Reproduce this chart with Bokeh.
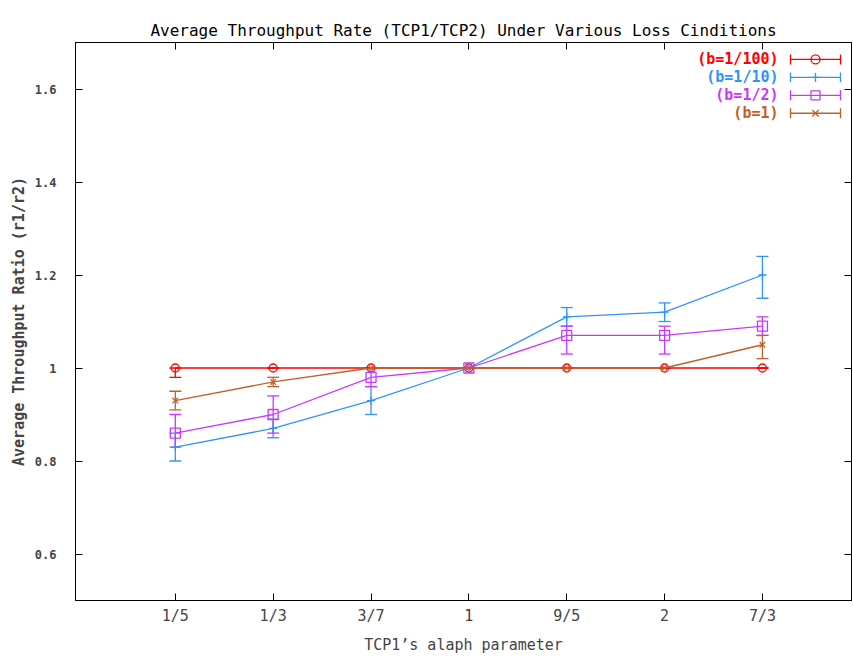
from bokeh.plotting import figure
from bokeh.models import Range1d, FixedTicker, LinearAxis, Whisker, TeeHead, ColumnDataSource, Label
from bokeh.embed import file_html
from bokeh.resources import INLINE

# ---------------- data ----------------
categories = ["1/5", "1/3", "3/7", "1", "9/5", "2", "7/3"]

b100_y = [1.00, 1.00, 1.00, 1.00, 1.00, 1.00, 1.00]
b100_lo = [0.98, 1.00, 1.00, 1.00, 1.00, 1.00, 1.00]
b100_hi = [1.00, 1.00, 1.00, 1.00, 1.00, 1.00, 1.00]

b10_y = [0.83, 0.87, 0.93, 1.00, 1.11, 1.12, 1.20]
b10_lo = [0.80, 0.85, 0.90, 1.00, 1.09, 1.10, 1.15]
b10_hi = [0.86, 0.89, 0.96, 1.00, 1.13, 1.14, 1.24]

b2_y = [0.86, 0.90, 0.98, 1.00, 1.07, 1.07, 1.09]
b2_lo = [0.83, 0.86, 0.96, 1.00, 1.03, 1.03, 1.07]
b2_hi = [0.90, 0.94, 1.00, 1.00, 1.09, 1.09, 1.11]

b1_y = [0.93, 0.97, 1.00, 1.00, 1.00, 1.00, 1.05]
b1_lo = [0.91, 0.96, 1.00, 1.00, 1.00, 1.00, 1.02]
b1_hi = [0.95, 0.98, 1.00, 1.00, 1.00, 1.00, 1.07]

y_ticks = [0.6, 0.8, 1.0, 1.2, 1.4, 1.6]
y_tick_labels = ["0.6", "0.8", "1", "1.2", "1.4", "1.6"]

series_labels = ["(b=1/100)", "(b=1/10)", "(b=1/2)", "(b=1)"]
series_colors = ["#ff0000", "#3094f5", "#c838ff", "#c0602a"]
series_markers = ["circle", "cross", "square", "x"]
series_y = [b100_y, b10_y, b2_y, b1_y]
series_lo = [b100_lo, b10_lo, b2_lo, b1_lo]
series_hi = [b100_hi, b10_hi, b2_hi, b1_hi]

# ---------------- figure ----------------
X0, X1 = -1.02, 6.91
Y0, Y1 = 0.5, 1.7
W, H = 853, 656
BL, BR, BT, BB = 75, 2, 42, 54

p = figure(width=W, height=H, output_backend="svg", toolbar_location=None,
           x_range=Range1d(X0, X1), y_range=Range1d(Y0, Y1),
           min_border_left=BL, min_border_right=BR, min_border_top=BT, min_border_bottom=BB,
           title="Average Throughput Rate (TCP1/TCP2) Under Various Loss Cinditions")
p.title.text_font = "DejaVu Sans Mono"
p.title.text_font_size = "16px"
p.title.text_font_style = "normal"
p.title.align = "center"
p.title.vertical_align = "top"
p.title.text_color = "black"
p.title.standoff = 2

p.xgrid.visible = False
p.ygrid.visible = False
p.outline_line_color = "black"
p.outline_line_width = 1
p.background_fill_color = "white"
p.border_fill_color = "white"

mono = "DejaVu Sans Mono"

xt = FixedTicker(ticks=list(range(len(categories))))
yt = FixedTicker(ticks=y_ticks)

xa = p.xaxis[0]
xa.ticker = xt
xa.major_label_overrides = {i: c for i, c in enumerate(categories)}
xa.major_label_text_font = mono
xa.major_label_text_font_size = "15px"
xa.major_label_standoff = 6
xa.major_tick_in = 7
xa.major_tick_out = 0
xa.minor_tick_line_color = None
xa.axis_line_color = "black"
xa.axis_label = "TCP1\u2019s alaph parameter"
xa.axis_label_text_font = mono
xa.axis_label_text_font_size = "15px"
xa.axis_label_text_font_style = "normal"
xa.axis_label_standoff = 8

ya = p.yaxis[0]
ya.ticker = yt
ya.major_label_overrides = {v: s for v, s in zip(y_ticks, y_tick_labels)}
ya.major_label_text_font = mono
ya.major_label_text_font_size = "12px"
ya.major_label_text_font_style = "bold"
ya.major_label_standoff = 19
ya.major_tick_in = 7
ya.major_tick_out = 0
ya.minor_tick_line_color = None
ya.axis_line_color = "black"
ya.axis_label = "Average Throughput Ratio (r1/r2)"
ya.axis_label_text_font = mono
ya.axis_label_text_font_size = "15px"
ya.axis_label_text_font_style = "bold"
ya.axis_label_standoff = 4

for loc, tk in (("right", yt), ("above", xt)):
    ax = LinearAxis(ticker=tk, major_label_text_font_size="0px", major_tick_in=7,
                    major_tick_out=0, minor_tick_line_color=None, axis_line_color="black",
                    major_label_standoff=0)
    p.add_layout(ax, loc)

# ---------------- series ----------------
xs = list(range(len(categories)))
for lab, col, mk, ys, lo, hi in zip(series_labels, series_colors, series_markers,
                                    series_y, series_lo, series_hi):
    src = ColumnDataSource(dict(x=xs, y=ys, lo=lo, hi=hi))
    p.line("x", "y", source=src, line_color=col, line_width=1.3)
    w = Whisker(source=src, base="x", lower="lo", upper="hi", line_color=col, line_width=1.3,
                lower_head=TeeHead(size=12, line_color=col, line_width=1.3),
                upper_head=TeeHead(size=12, line_color=col, line_width=1.3))
    p.add_layout(w)
    size = 10 if mk == "square" else 8
    p.scatter("x", "y", source=src, marker=mk, size=size, line_color=col,
              fill_color=None, line_width=1.3)

# ---------------- legend (drawn at the top-right of the frame) ----------------
fw = W - BL - BR
fh = H - BT - BB
px = (X1 - X0) / fw
py = (Y1 - Y0) / fh
for i, (lab, col, mk) in enumerate(zip(series_labels, series_colors, series_markers)):
    yy = Y1 - (17 + 18 * i) * py
    p.add_layout(Label(x=X1 - 73 * px, y=yy, text=lab, text_align="right",
                       text_baseline="middle", text_font=mono, text_font_size="15px",
                       text_font_style="bold", text_color=col))
    xa0 = X1 - 61 * px
    xa1 = X1 - 11 * px
    p.segment(x0=[xa0, xa0, xa1], y0=[yy, yy - 5 * py, yy - 5 * py],
              x1=[xa1, xa0, xa1], y1=[yy, yy + 5 * py, yy + 5 * py],
              line_color=col, line_width=1.3)
    p.scatter(x=[X1 - 36 * px], y=[yy], marker=mk, size=9, line_color=col,
              fill_color=None, line_width=1.3)

open("out.html", "w").write(file_html(p, INLINE))
